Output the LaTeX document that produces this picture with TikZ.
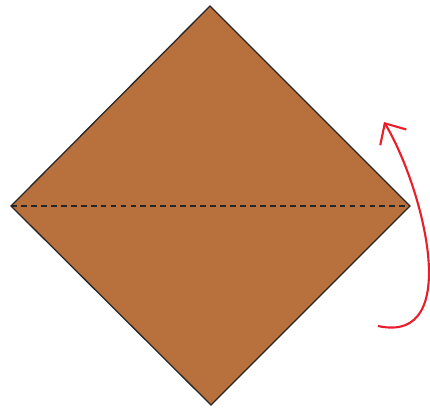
\documentclass[tikz,border=0pt]{standalone}
\usepackage{tikz}
\usetikzlibrary{calc}
\usetikzlibrary{arrows.meta}

\definecolor{paper}{RGB}{184,113,61}
\definecolor{foldred}{RGB}{232,30,42}

\begin{document}
\begin{tikzpicture}[x=0.03cm,y=-0.03cm]

\useasboundingbox (0,0) rectangle (430,410);

% Square vertices
\coordinate (T) at (210,6);
\coordinate (L) at (11,206);
\coordinate (R) at (410,206);
\coordinate (D) at (211,405);

% Paper
\draw[fill=paper,draw=black!85,line width=1.1pt,line join=miter] (T)--(R)--(D)--(L)--cycle;

% Fold line
\draw[black!85,dash pattern=on 5pt off 3.5pt,line width=1.2pt] (L)--(R);

% Turn arrow
\coordinate (S) at (378,326);
\coordinate (E) at (384,122);
\draw[foldred,line width=1.8pt,-{Straight Barb[length=14pt,width=26pt,line width=1.8pt]}]
  (S) .. controls (465,345) and (422,185) .. (E);

\end{tikzpicture}
\end{document}
